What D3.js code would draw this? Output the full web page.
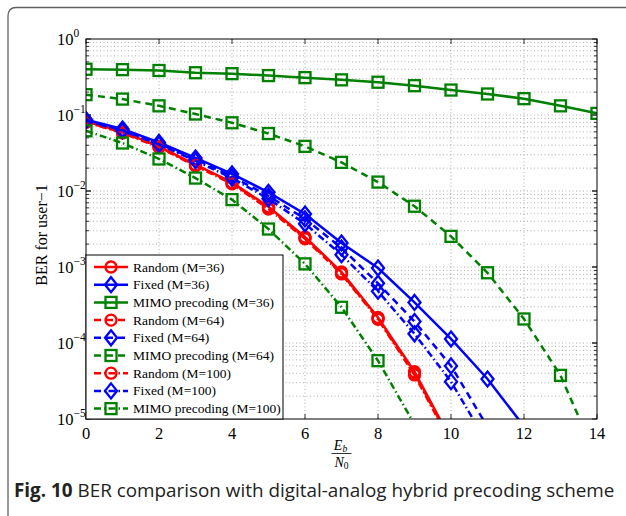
<!DOCTYPE html>
<html>
<head>
<meta charset="utf-8">
<script src="https://cdn.jsdelivr.net/npm/d3@7"></script>
<style>
  body { margin: 0; background: #fff; }
  svg { display: block; }
</style>
</head>
<body>
<div id="chart"></div>
<script>
// Eb/N0 points (dB)
const snr = [0, 1, 2, 3, 4, 5, 6, 7, 8, 9, 10, 11, 12, 13, 14];

// BER values (last value of a few series lies below 1e-5 and is clipped)
const randomM36  = [0.082, 0.060, 0.0386, 0.0222, 0.013, 0.0062, 0.00248, 0.00086, 0.000217, 0.000042, 0.0000053];
const fixedM36   = [0.0867, 0.0654, 0.0436, 0.0272, 0.0168, 0.0096, 0.00498, 0.00207, 0.00097, 0.000342, 0.000113, 0.0000336, 0.0000080];
const mimoM36    = [0.40, 0.395, 0.385, 0.36, 0.35, 0.33, 0.31, 0.29, 0.27, 0.243, 0.213, 0.189, 0.164, 0.132, 0.105];
const randomM64  = [0.081, 0.059, 0.0380, 0.0218, 0.0127, 0.0060, 0.00240, 0.00083, 0.000210, 0.000040, 0.0000050];
const fixedM64   = [0.085, 0.063, 0.042, 0.026, 0.0155, 0.0086, 0.0043, 0.00178, 0.00061, 0.000192, 0.000050, 0.0000079];
const mimoM64    = [0.185, 0.162, 0.132, 0.103, 0.079, 0.057, 0.0387, 0.0238, 0.0131, 0.0063, 0.00253, 0.00084, 0.000207, 0.0000375, 0.0000030];
const randomM100 = [0.080, 0.058, 0.0375, 0.0214, 0.0124, 0.0058, 0.00235, 0.00081, 0.000205, 0.000038, 0.0000048];
const fixedM100  = [0.084, 0.062, 0.041, 0.025, 0.0148, 0.0079, 0.0037, 0.00145, 0.00048, 0.000132, 0.000031, 0.0000048];
const mimoM100   = [0.062, 0.0428, 0.0264, 0.0148, 0.0077, 0.00316, 0.0011, 0.000295, 0.0000585, 0.0000085];

const legendLabels = [
  "Random (M=36)", "Fixed (M=36)", "MIMO precoding (M=36)",
  "Random (M=64)", "Fixed (M=64)", "MIMO precoding (M=64)",
  "Random (M=100)", "Fixed (M=100)", "MIMO precoding (M=100)"
];
const xTicks = [0, 2, 4, 6, 8, 10, 12, 14];
const yExps = [0, -1, -2, -3, -4, -5];
const yLabel = "BER for user\u22121";
const captionBold = "Fig. 10";
const captionText = " BER comparison with digital-analog hybrid precoding scheme";

const series = [
  {values: randomM36,  color: "#ff0000", dash: null,        marker: "circle"},
  {values: fixedM36,   color: "#0000ff", dash: null,        marker: "diamond"},
  {values: mimoM36,    color: "#008000", dash: null,        marker: "square"},
  {values: randomM64,  color: "#ff0000", dash: "7,5",       marker: "circle"},
  {values: fixedM64,   color: "#0000ff", dash: "7,5",       marker: "diamond"},
  {values: mimoM64,    color: "#008000", dash: "7,5",       marker: "square"},
  {values: randomM100, color: "#ff0000", dash: "7,3,1.5,3", marker: "circle"},
  {values: fixedM100,  color: "#0000ff", dash: "7,3,1.5,3", marker: "diamond"},
  {values: mimoM100,   color: "#008000", dash: "7,3,1.5,3", marker: "square"}
];
series.forEach((s, i) => s.label = legendLabels[i]);

const W = 626, H = 516;
const plot = {left: 86, right: 597, top: 39, bottom: 419};

const svg = d3.select("#chart").append("svg")
  .attr("width", W).attr("height", H);

// figure frame (rounded top-left corner, runs off right and bottom)
svg.append("path")
  .attr("d", "M8,520 L8,16 Q8,7.5 16,7.5 L630,7.5")
  .attr("fill", "none").attr("stroke", "#606060").attr("stroke-width", 1.3);

const x = d3.scaleLinear().domain([0, 14]).range([plot.left, plot.right]);
const y = d3.scaleLog().domain([1e-5, 1]).range([plot.bottom, plot.top]);

const serif = "'Liberation Serif', 'Times New Roman', serif";

// grid
const grid = svg.append("g").attr("stroke", "#9a9a9a").attr("stroke-width", 0.8)
  .attr("stroke-dasharray", "1,2.5");
xTicks.slice(1, -1).forEach(t => {
  grid.append("line").attr("x1", x(t)).attr("x2", x(t))
    .attr("y1", plot.top).attr("y2", plot.bottom);
});
const minorY = [];
for (let e = -5; e < 0; e++) {
  for (let m = 1; m <= 9; m++) {
    const v = m * Math.pow(10, e);
    if (v > 1e-5 && v < 1) minorY.push(v);
  }
}
minorY.forEach(v => {
  grid.append("line").attr("x1", plot.left).attr("x2", plot.right)
    .attr("y1", y(v)).attr("y2", y(v));
});

// inward ticks on all sides
const ticks = svg.append("g").attr("stroke", "#000").attr("stroke-width", 0.8);
xTicks.forEach(t => {
  ticks.append("line").attr("x1", x(t)).attr("x2", x(t)).attr("y1", plot.bottom).attr("y2", plot.bottom - 5);
  ticks.append("line").attr("x1", x(t)).attr("x2", x(t)).attr("y1", plot.top).attr("y2", plot.top + 5);
});
minorY.concat(yExps.map(e => Math.pow(10, e))).forEach(v => {
  const lv = Math.log10(v);
  const len = Math.abs(lv - Math.round(lv)) < 1e-9 ? 5 : 3;
  ticks.append("line").attr("x1", plot.left).attr("x2", plot.left + len).attr("y1", y(v)).attr("y2", y(v));
  ticks.append("line").attr("x1", plot.right).attr("x2", plot.right - len).attr("y1", y(v)).attr("y2", y(v));
});

// curves
const clip = svg.append("clipPath").attr("id", "plotclip");
clip.append("rect").attr("x", plot.left).attr("y", plot.top)
  .attr("width", plot.right - plot.left).attr("height", plot.bottom - plot.top);

const line = d3.line().x((d, i) => x(snr[i])).y(d => y(d));

function drawMarker(g, kind, cx, cy, color) {
  if (kind === "circle") {
    g.append("circle").attr("cx", cx).attr("cy", cy).attr("r", 5.5)
      .attr("fill", "none").attr("stroke", color).attr("stroke-width", 2.3);
  } else if (kind === "square") {
    g.append("rect").attr("x", cx - 5.5).attr("y", cy - 5.5).attr("width", 11).attr("height", 11)
      .attr("fill", "none").attr("stroke", color).attr("stroke-width", 2.3);
  } else {
    g.append("path").attr("d", `M${cx},${cy - 7.5} L${cx + 6},${cy} L${cx},${cy + 7.5} L${cx - 6},${cy} Z`)
      .attr("fill", "none").attr("stroke", color).attr("stroke-width", 2.3);
  }
}

const curves = svg.append("g").attr("clip-path", "url(#plotclip)");
series.forEach(s => {
  const g = curves.append("g");
  g.append("path").datum(s.values)
    .attr("d", line)
    .attr("fill", "none")
    .attr("stroke", s.color)
    .attr("stroke-width", 2.5)
    .attr("stroke-dasharray", s.dash);
  s.values.forEach((v, i) => {
    if (v >= 1e-5) drawMarker(g, s.marker, x(snr[i]), y(v), s.color);
  });
});

// plot box
svg.append("rect").attr("x", plot.left).attr("y", plot.top)
  .attr("width", plot.right - plot.left).attr("height", plot.bottom - plot.top)
  .attr("fill", "none").attr("stroke", "#000").attr("stroke-width", 1);

// x tick labels
svg.append("g").selectAll("text").data(xTicks).join("text")
  .attr("x", d => x(d)).attr("y", 439)
  .attr("text-anchor", "middle")
  .attr("font-family", serif).attr("font-size", 16.5)
  .text(d => d);

// y tick labels 10^e
const yl = svg.append("g").attr("font-family", serif).attr("font-size", 16.5);
yExps.forEach(e => {
  const t = yl.append("text").attr("x", 57).attr("y", y(Math.pow(10, e)) + 6);
  t.append("tspan").text("10");
  t.append("tspan").attr("dy", -8).attr("font-size", 11.5).text(e === 0 ? "0" : "\u2212" + (-e));
});

// y axis label
svg.append("text")
  .attr("transform", "translate(47,235) rotate(-90)")
  .attr("text-anchor", "middle")
  .attr("font-family", serif).attr("font-size", 16)
  .text(yLabel);

// x axis label Eb / N0
const xl = svg.append("g").attr("font-family", serif).attr("font-style", "italic");
const cx = (plot.left + plot.right) / 2;
const eb = xl.append("text").attr("x", cx - 1).attr("y", 450).attr("text-anchor", "middle").attr("font-size", 14);
eb.append("tspan").text("E");
eb.append("tspan").attr("font-size", 9.5).attr("dy", 2).text("b");
svg.append("line").attr("x1", cx - 10).attr("x2", cx + 10).attr("y1", 453.5).attr("y2", 453.5)
  .attr("stroke", "#000").attr("stroke-width", 0.8);
const n0 = xl.append("text").attr("x", cx).attr("y", 467).attr("text-anchor", "middle").attr("font-size", 14);
n0.append("tspan").text("N");
n0.append("tspan").attr("font-size", 9.5).attr("dy", 2).attr("font-style", "normal").text("0");

// legend
const leg = {x: plot.left, y: 255, w: 197, h: plot.bottom - 255, row: 17.7};
const lg = svg.append("g");
lg.append("rect").attr("x", leg.x).attr("y", leg.y).attr("width", leg.w).attr("height", leg.h)
  .attr("fill", "#fff").attr("stroke", "#000").attr("stroke-width", 1);
series.forEach((s, i) => {
  const ry = leg.y + 12 + i * leg.row;
  lg.append("line").attr("x1", leg.x + 8).attr("x2", leg.x + 42).attr("y1", ry).attr("y2", ry)
    .attr("stroke", s.color).attr("stroke-width", 2.5).attr("stroke-dasharray", s.dash);
  drawMarker(lg, s.marker, leg.x + 25, ry, s.color);
  lg.append("text").attr("x", leg.x + 47).attr("y", ry + 4.5)
    .attr("font-family", serif).attr("font-size", 13.5).text(s.label);
});

// caption
const cap = svg.append("text").attr("x", 14).attr("y", 497)
  .attr("font-family", "'Open Sans', 'Noto Sans', sans-serif").attr("font-size", 16).attr("fill", "#222");
cap.append("tspan").attr("font-weight", "bold").text(captionBold);
cap.append("tspan").text(captionText);
const capW = cap.node().getComputedTextLength();
cap.attr("font-size", 16 * 601 / capW);
</script>
</body>
</html>
